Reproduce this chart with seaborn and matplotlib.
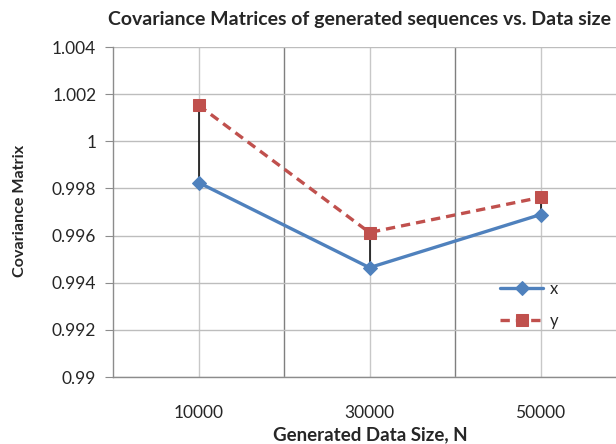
import numpy as np
import pandas as pd
import seaborn as sns
import matplotlib.pyplot as plt
from matplotlib.ticker import FuncFormatter, FixedLocator

sns.set_style("white")
plt.rcParams['font.family'] = ['Lato', 'DejaVu Sans']

sizes = ["10000", "30000", "50000"]
cov_x = [0.99825, 0.99464, 0.99689]
cov_y = [1.00153, 0.99613, 0.99762]

blue = "#4F81BD"
red = "#C0504D"

df = pd.DataFrame({
    "pos": list(range(len(sizes))) * 2,
    "value": cov_x + cov_y,
    "series": ["x"] * len(sizes) + ["y"] * len(sizes),
})

fig = plt.figure(figsize=(6.16, 4.44), dpi=100)
ax = fig.add_axes([113 / 616, 1 - 377 / 444, 513 / 616, 330 / 444])

# high-low lines between the two series
ax.vlines(range(len(sizes)), cov_x, cov_y, color="black", lw=1.1, zorder=2)

sns.lineplot(data=df[df.series == "x"], x="pos", y="value", ax=ax,
             color=blue, lw=2.4, marker="D", markersize=7,
             markeredgecolor=blue, label="x", zorder=3)
sns.lineplot(data=df[df.series == "y"], x="pos", y="value", ax=ax,
             color=red, lw=2.4, marker="s", markersize=9,
             markeredgecolor=red, linestyle=(0, (2.8, 1.8)), label="y", zorder=3)

ax.set_xlim(-0.5, 2.5)
ax.set_ylim(0.99, 1.004)
ax.set_yticks(np.arange(0.99, 1.0041, 0.002))
ax.yaxis.set_major_formatter(FuncFormatter(lambda v, p: f"{v:.3f}".rstrip("0").rstrip(".")))
ax.set_xticks(range(len(sizes)))
ax.set_xticklabels(sizes)
ax.xaxis.set_minor_locator(FixedLocator([0.5, 1.5]))

ax.grid(axis="y", color="#BDBDBD", lw=1)
ax.grid(axis="x", which="major", color="#C8C8C8", lw=1)
ax.grid(axis="x", which="minor", color="#7F7F7F", lw=1)
ax.set_axisbelow(True)

for s in ["top", "right"]:
    ax.spines[s].set_visible(False)
for s in ["left", "bottom"]:
    ax.spines[s].set_color("#8C8C8C")
    ax.spines[s].set_linewidth(1)

ax.tick_params(axis="y", which="major", direction="out", length=6, color="#8C8C8C",
               labelsize=12.5, pad=6, left=True)
ax.tick_params(axis="x", which="both", length=0, labelsize=12.5, pad=20)

ax.set_xlabel("Generated Data Size, N", fontsize=13.5, fontweight="bold", va="center")
ax.xaxis.set_label_coords((370 - 113) / 513, (377 - 435) / 330)
ax.set_ylabel("Covariance Matrix", fontsize=11.6, fontweight="bold", va="center")
ax.yaxis.set_label_coords((20 - 113) / 513, (377 - 211) / 330)
fig.text(360 / 616, 1 - 20 / 444, "Covariance Matrices of generated sequences vs. Data size",
         ha="center", va="center", fontsize=14, fontweight="bold")

ax.legend(loc="upper left", bbox_to_anchor=((485 - 113) / 513, 1 - (266 - 47) / 330),
          bbox_transform=ax.transAxes, frameon=False, fontsize=12,
          handlelength=2.6, labelspacing=0.95, handletextpad=0.4)

fig.savefig("out.png", dpi=100)
